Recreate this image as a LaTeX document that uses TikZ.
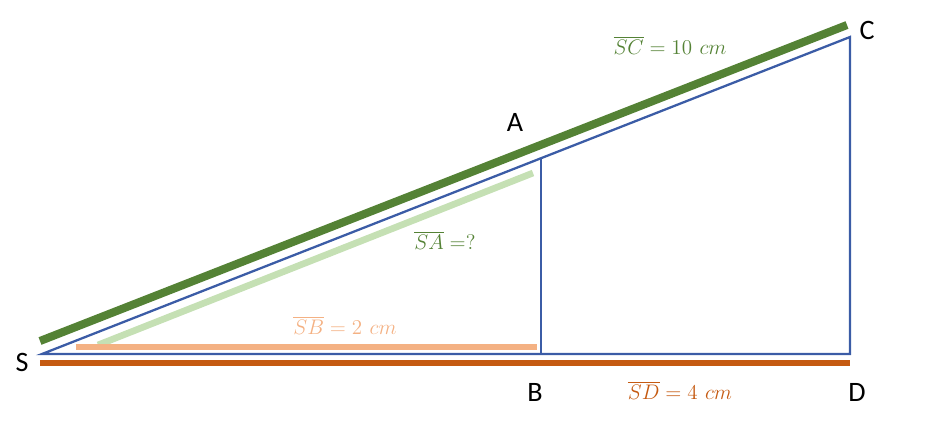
\documentclass[tikz,border=0pt]{standalone}
\usepackage{fontspec}
\setsansfont{Carlito}
\usepackage{amsmath}
\usetikzlibrary{positioning, calc}
\definecolor{triblue}{HTML}{3B5CA6}
\definecolor{sidegreen}{HTML}{548235}
\definecolor{palegreen}{HTML}{C5E0B4}
\definecolor{sideorange}{HTML}{C55A11}
\definecolor{paleorange}{HTML}{F4B183}
\tikzset{
  vertex/.style={font=\sffamily\fontsize{16}{18}\selectfont},
  measure/.style={font=\fontsize{13}{15}\selectfont},
  edge/.style={draw=triblue, line width=1.3pt},
  band/.style={line width=3.8pt}
}

\begin{document}
\begin{tikzpicture}[x=0.02cm, y=-0.02cm]
    \useasboundingbox (0,0) rectangle (940,436);

    % corners of the triangles
    \coordinate (S) at (42,354);
    \coordinate (A) at (541,158);
    \coordinate (B) at (541,354);
    \coordinate (C) at (850,37);
    \coordinate (D) at (850,354);

    % ends of the coloured bands
    \coordinate (sc0) at (40,341);
    \coordinate (sc1) at (847,25);
    \coordinate (sa0) at (98,345);
    \coordinate (sa1) at (533,173);
    \coordinate (sb0) at (76,347);
    \coordinate (sb1) at (537,347);
    \coordinate (sd0) at (40,363);
    \coordinate (sd1) at (850,363);

    \draw [band, draw=sidegreen, line width=4.6pt] (sc0)--(sc1);
    \draw [band, draw=palegreen] (sa0)--(sa1);
    \draw [band, draw=paleorange] (sb0)--(sb1);
    \draw [band, draw=sideorange] (sd0)--(sd1);

    \draw [edge] (S)--(C)--(D)--cycle;
    \draw [edge] (A)--(B);

    \node [vertex] (lS) at (22,362) {S};
    \node [vertex] (lA) at (515,122) {A};
    \node [vertex] (lB) at (535,392) {B};
    \node [vertex] (lC) at (867,30) {C};
    \node [vertex] (lD) at (857,392) {D};

    \node [measure, text=sidegreen] (SC) at (670,45) {$\overline{SC} = 10\ cm$};
    \node [measure, text=sidegreen] (SA) at (445,240) {$\overline{SA}\;{=}?$};
    \node [measure, text=paleorange] (SB) at (345,325) {$\overline{SB} = 2\ cm$};
    \node [measure, text=sideorange] (SD) at (680,390) {$\overline{SD} = 4\ cm$};
\end{tikzpicture}
\end{document}
